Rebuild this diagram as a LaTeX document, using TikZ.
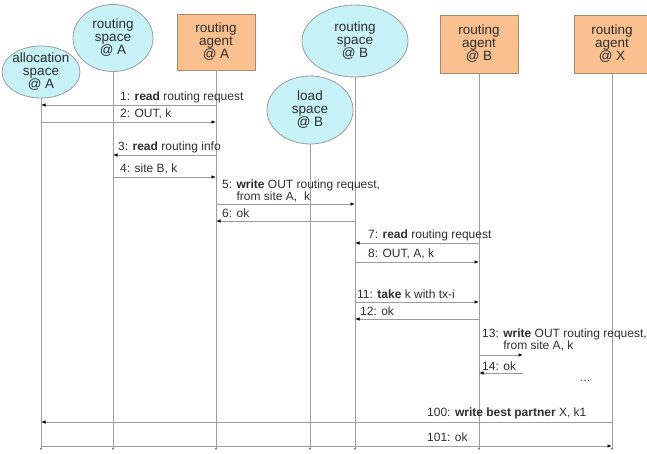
\documentclass[tikz,border=0pt]{standalone}
\usepackage{fontspec}
\setmainfont{Liberation Sans}
\usetikzlibrary{shapes.geometric,arrows.meta}

\definecolor{spacefill}{HTML}{C6F2F8}
\definecolor{agentfill}{HTML}{FBC08F}
\definecolor{edgegray}{HTML}{9C9C9C}
\definecolor{agentedge}{HTML}{A88A6C}
\definecolor{txt}{HTML}{2E2E2E}

\begin{document}
\begin{tikzpicture}[x=1pt,y=-1pt,
  space/.style={ellipse, draw=edgegray, fill=spacefill, line width=0.8pt, inner sep=0pt},
  agent/.style={rectangle, draw=agentedge, fill=agentfill, line width=0.8pt, inner sep=0pt},
  boxtext/.style={align=center, inner sep=0pt, text=txt, font=\fontsize{13.5}{13}\selectfont},
  life/.style={draw=edgegray, line width=1pt, -{Latex[length=2pt,width=2.5pt,color=edgegray!70!black]}},
  msg/.style={draw=edgegray, line width=0.8pt, -{Latex[length=4.5pt,width=3.5pt,color=black]}},
  lbl/.style={anchor=west, align=left, inner sep=0pt, text=txt, font=\fontsize{12}{12.5}\selectfont}]

\useasboundingbox (0,0) rectangle (647,454);

% participants
\node[space, minimum width=78, minimum height=52] (alloc) at (41,72) {};
\node[boxtext] at (alloc) {allocation\\space\\@ A};
\node[space, minimum width=80, minimum height=67] (rsA) at (113,38) {};
\node[boxtext] at (rsA) {routing\\space\\@ A};
\node[agent, minimum width=78, minimum height=56] (raA) at (216,42) {};
\node[boxtext] at (raA) {routing\\agent\\@ A};
\node[space, minimum width=86, minimum height=68] (lsB) at (310,110) {};
\node[boxtext] at (lsB) {load\\space\\@ B};
\node[space, minimum width=106, minimum height=72] (rsB) at (355,41) {};
\node[boxtext] at (rsB) {routing\\space\\@ B};
\node[agent, minimum width=78, minimum height=58] (raB) at (479,44) {};
\node[boxtext] at (raB) {routing\\agent\\@ B};
\node[agent, minimum width=76, minimum height=58] (raX) at (612,44) {};
\node[boxtext] at (raX) {routing\\agent\\@ X};

% lifelines
\coordinate (bot) at (0,450);
\foreach \p in {alloc,rsA,raA,lsB,rsB,raB,raX}
  \draw[life] (\p.south) -- (\p.south |- bot);

% messages
\draw[msg] (raA |- 0,105) -- (alloc |- 0,105);
\node[lbl] (m1) at (120,97) {1: \textbf{read} routing request};
\draw[msg] (alloc |- 0,122) -- (raA |- 0,122);
\node[lbl] (m2) at (120,114) {2: OUT, k};
\draw[msg] (raA |- 0,155) -- (rsA |- 0,155);
\node[lbl] (m3) at (118,147) {3: \textbf{read} routing info};
\draw[msg] (rsA |- 0,177) -- (raA |- 0,177);
\node[lbl] (m4) at (120,169) {4: site B, k};
\draw[msg] (raA |- 0,204) -- (rsB |- 0,204);
\node[lbl] (m5) at (222,191) {5: \textbf{write} OUT routing request,\\\hphantom{5: }from site A,\ \ k};
\draw[msg] (rsB |- 0,221) -- (raA |- 0,221);
\node[lbl] (m6) at (222,213) {6: ok};
\draw[msg] (raB |- 0,243) -- (rsB |- 0,243);
\node[lbl] (m7) at (368,235) {7: \textbf{read} routing request};
\draw[msg] (rsB |- 0,262) -- (raB |- 0,262);
\node[lbl] (m8) at (368,254) {8: OUT, A, k};
\draw[msg] (rsB |- 0,302) -- (raB |- 0,302);
\node[lbl] (m11) at (357,294) {11: \textbf{take} k with tx-i};
\draw[msg] (raB |- 0,319) -- (rsB |- 0,319);
\node[lbl] (m12) at (360,311) {12: ok};
\node[lbl] (m13) at (482,340) {13: \textbf{write} OUT routing request,\\\hphantom{13: }from site A, k};
\coordinate (self) at (523,355);
\draw[msg] (raB |- self) -- (self);
\node[lbl] (m14) at (482,366) {14: ok};
\coordinate (selfb) at (523,373);
\draw[msg] (selfb) -- (raB |- selfb);
\node[lbl] (dots) at (580,381) {...};
\draw[msg] (raX |- 0,422) -- (alloc |- 0,422);
\node[lbl] (m100) at (427,413) {100: \textbf{write best partner} X, k1};
\draw[msg] (alloc |- 0,446) -- (raX |- 0,446);
\node[lbl] (m101) at (427,437) {101: ok};
\end{tikzpicture}
\end{document}
